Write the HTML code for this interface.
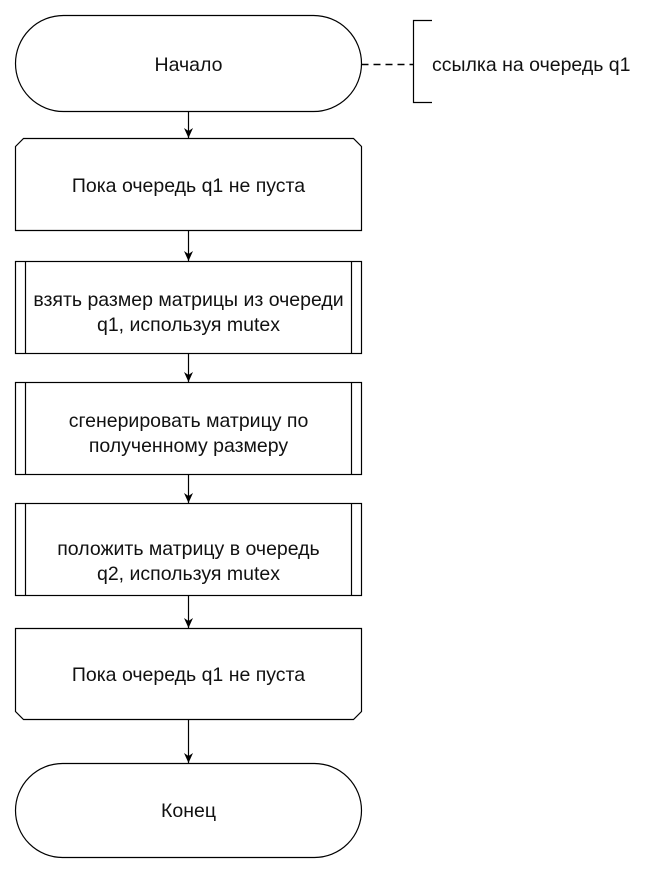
<!DOCTYPE html>
<html><head><meta charset="utf-8"><style>body{margin:0;background:#fff}</style></head><body>
<svg width="653" height="871" xmlns="http://www.w3.org/2000/svg" font-family="Liberation Sans, Arial, sans-serif" font-size="19.5" fill="none" stroke="#000" stroke-width="1.2">
<defs><marker id="a" markerWidth="12" markerHeight="12" refX="10" refY="5" orient="auto" markerUnits="userSpaceOnUse"><path d="M0,0.5 L10,5 L0,9.5 L3,5 Z" fill="#000" stroke="none"/></marker></defs>
<rect x="15.5" y="15.5" width="346" height="96" rx="48" ry="48"/>
<path d="M361.5,64.5 H413" stroke-dasharray="7,5" stroke-width="1.5"/>
<path d="M432,20.5 H413.5 V102.5 H432"/>
<path d="M15.5,146.5 L23.5,138.5 H353.5 L361.5,146.5 V230.5 H15.5 Z"/>
<rect x="15.5" y="261.5" width="346" height="92"/>
<path d="M25.5,261.5V353.5M351.5,261.5V353.5"/>
<rect x="15.5" y="382.5" width="346" height="92"/>
<path d="M25.5,382.5V474.5M351.5,382.5V474.5"/>
<rect x="15.5" y="503.5" width="346" height="92"/>
<path d="M25.5,503.5V595.5M351.5,503.5V595.5"/>
<path d="M15.5,628.5 H361.5 V711.5 L353.5,719.5 H23.5 L15.5,711.5 Z"/>
<rect x="15.5" y="763.5" width="346" height="94" rx="47" ry="47"/>
<g marker-end="url(#a)">
<path d="M188.5,111.5V138"/><path d="M188.5,230.5V261"/><path d="M188.5,353.5V382"/>
<path d="M188.5,474.5V503"/><path d="M188.5,595.5V628"/><path d="M188.5,719.5V763"/>
</g>
<g fill="#111" stroke="none" text-anchor="middle">
<text x="188.5" y="71">Начало</text>
<text x="188.5" y="192">Пока очередь q1 не пуста</text>
<text x="188.5" y="306">взять размер матрицы из очереди</text>
<text x="188.5" y="331">q1, используя mutex</text>
<text x="188.5" y="427">сгенерировать матрицу по</text>
<text x="188.5" y="452">полученному размеру</text>
<text x="188.5" y="555">положить матрицу в очередь</text>
<text x="188.5" y="580">q2, используя mutex</text>
<text x="188.5" y="681">Пока очередь q1 не пуста</text>
<text x="188.5" y="817">Конец</text>
<text x="432" y="71" text-anchor="start">ссылка на очередь q1</text>
</g>
</svg>
</body></html>
